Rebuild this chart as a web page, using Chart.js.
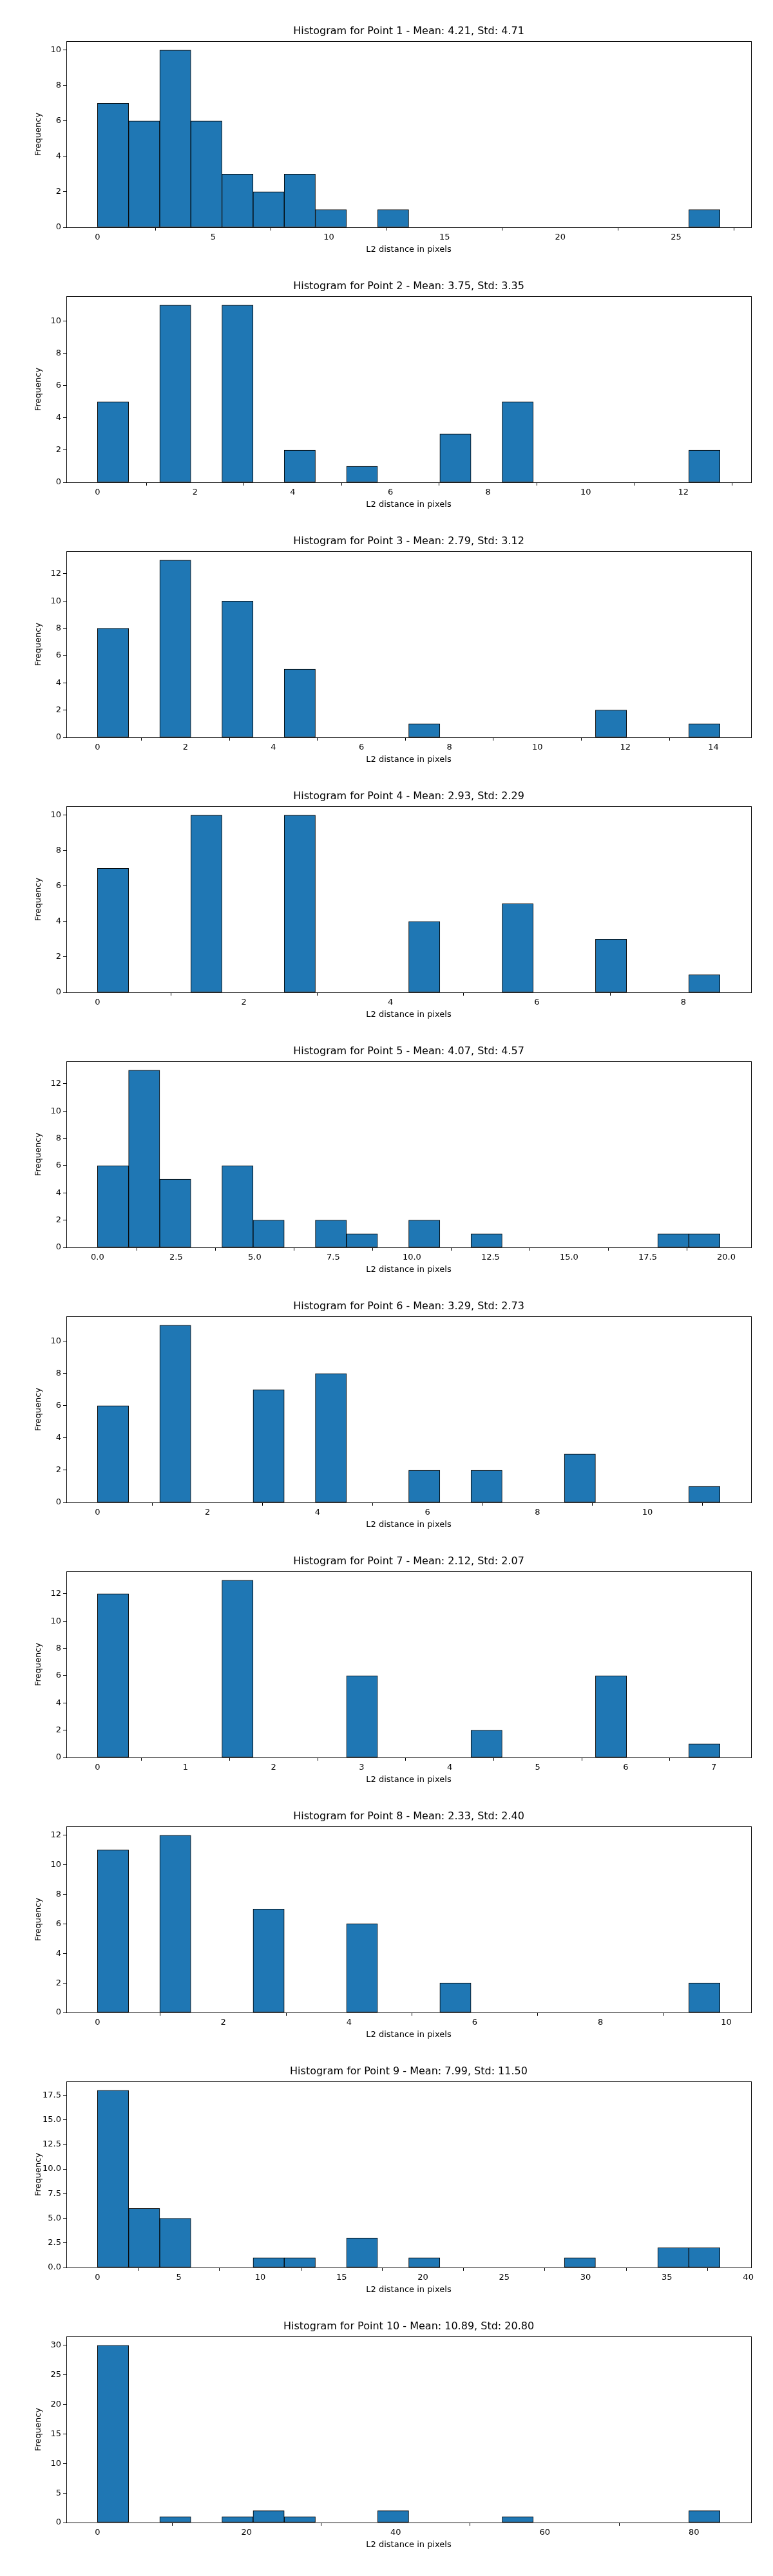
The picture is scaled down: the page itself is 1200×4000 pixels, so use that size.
<!DOCTYPE html>
<html>
<head>
<meta charset="utf-8">
<script src="https://cdn.jsdelivr.net/npm/chart.js@4.4.0/dist/chart.umd.min.js"></script>
<style>
  body { margin: 0; background: #fff; }
  canvas { display: block; }
</style>
</head>
<body>
<div id="wrap"></div>
<script>
// one entry per point: stats from the titles, histogram range and 20 bin counts
const pointNames = ["1", "2", "3", "4", "5", "6", "7", "8", "9", "10"];
const means = ["4.21", "3.75", "2.79", "2.93", "4.07", "3.29", "2.12", "2.33", "7.99", "10.89"];
const stds = ["4.71", "3.35", "3.12", "2.29", "4.57", "2.73", "2.07", "2.40", "11.50", "20.80"];
const rangeMin = [0, 0, 0, 0, 0, 0, 0, 0, 0, 0];
const rangeMax = [26.9, 12.75, 14.15, 8.5, 19.8, 11.32, 7.07, 9.9, 38.26, 83.5];

const counts = [
  [7, 6, 10, 6, 3, 2, 3, 1, 0, 1, 0, 0, 0, 0, 0, 0, 0, 0, 0, 1],
  [5, 0, 11, 0, 11, 0, 2, 0, 1, 0, 0, 3, 0, 5, 0, 0, 0, 0, 0, 2],
  [8, 0, 13, 0, 10, 0, 5, 0, 0, 0, 1, 0, 0, 0, 0, 0, 2, 0, 0, 1],
  [7, 0, 0, 10, 0, 0, 10, 0, 0, 0, 4, 0, 0, 5, 0, 0, 3, 0, 0, 1],
  [6, 13, 5, 0, 6, 2, 0, 2, 1, 0, 2, 0, 1, 0, 0, 0, 0, 0, 1, 1],
  [6, 0, 11, 0, 0, 7, 0, 8, 0, 0, 2, 0, 2, 0, 0, 3, 0, 0, 0, 1],
  [12, 0, 0, 0, 13, 0, 0, 0, 6, 0, 0, 0, 2, 0, 0, 0, 6, 0, 0, 1],
  [11, 0, 12, 0, 0, 7, 0, 0, 6, 0, 0, 2, 0, 0, 0, 0, 0, 0, 0, 2],
  [18, 6, 5, 0, 0, 1, 1, 0, 3, 0, 1, 0, 0, 0, 0, 1, 0, 0, 2, 2],
  [30, 0, 1, 0, 1, 2, 1, 0, 0, 2, 0, 0, 0, 1, 0, 0, 0, 0, 0, 2],
];

// tick steps and decimals per subplot
const xSteps = [5, 2, 2, 2, 2.5, 2, 1, 2, 5, 20];
const xDecimals = [0, 0, 0, 0, 1, 0, 0, 0, 0, 0];
const ySteps = [2, 2, 2, 2, 2, 2, 2, 2, 2.5, 5];
const yDecimals = [0, 0, 0, 0, 0, 0, 0, 0, 1, 0];

const barColor = "#1f77b4";
const fontFamily = "'DejaVu Sans', sans-serif";

function stepTicks(step) {
  return (axis) => {
    const ticks = [];
    for (let k = Math.ceil(axis.min / step - 1e-9); k * step <= axis.max + 1e-9; k++) {
      ticks.push({ value: k * step });
    }
    axis.ticks = ticks;
  };
}

const framePlugin = {
  id: "frame",
  afterDraw(chart, args, opts) {
    const { ctx, chartArea: a } = chart;
    ctx.save();
    ctx.strokeStyle = "#000";
    ctx.lineWidth = 1;
    ctx.strokeRect(a.left + 0.5, a.top + 0.5, a.right - a.left, a.bottom - a.top);
    ctx.fillStyle = "#000";
    ctx.textAlign = "center";
    ctx.textBaseline = "middle";
    ctx.font = "16px " + fontFamily;
    ctx.fillText(opts.title, (a.left + a.right) / 2, 49);
    ctx.font = "13px " + fontFamily;
    ctx.fillText("L2 distance in pixels", (a.left + a.right) / 2, 388);
    ctx.translate(60, (a.top + a.bottom) / 2);
    ctx.rotate(-Math.PI / 2);
    ctx.fillText("Frequency", 0, 0);
    ctx.restore();
  },
};

const wrap = document.getElementById("wrap");

pointNames.forEach((name, i) => {
  const canvas = document.createElement("canvas");
  canvas.width = 1200;
  canvas.height = 396;
  wrap.appendChild(canvas);

  const lo = rangeMin[i];
  const hi = rangeMax[i];
  const binW = (hi - lo) / counts[i].length;
  const points = counts[i].map((c, k) => ({ x: lo + binW * (k + 0.5), y: c }));
  const span = hi - lo;
  const yMax = Math.max(...counts[i]) * 1.05;

  new Chart(canvas, {
    type: "bar",
    data: {
      datasets: [{
        data: points,
        backgroundColor: barColor,
        borderColor: "#000",
        borderWidth: 1,
        borderSkipped: false,
        barPercentage: 1,
        categoryPercentage: 1,
      }],
    },
    options: {
      responsive: false,
      animation: false,
      devicePixelRatio: 1,
      layout: { padding: { top: 64, right: 34, left: 0, bottom: 0 } },
      plugins: {
        legend: { display: false },
        tooltip: { enabled: false },
        frame: { title: `Histogram for Point ${name} - Mean: ${means[i]}, Std: ${stds[i]}` },
      },
      scales: {
        x: {
          type: "linear",
          offset: false,
          min: lo - span * 0.05,
          max: hi + span * 0.05,
          afterBuildTicks: stepTicks(xSteps[i]),
          afterFit: (s) => { s.height = 43; },
          grid: { display: true, drawOnChartArea: false, color: "#000", tickLength: 5, tickColor: "#000" },
          border: { display: true, color: "#000" },
          ticks: {
            color: "#000",
            font: { family: fontFamily, size: 13 },
            padding: 3,
            maxRotation: 0,
            autoSkip: false,
            callback: (v) => Number(v).toFixed(xDecimals[i]),
          },
        },
        y: {
          min: 0,
          max: yMax,
          afterBuildTicks: stepTicks(ySteps[i]),
          afterFit: (s) => { s.width = 103; },
          grid: { display: true, drawOnChartArea: false, color: "#000", tickLength: 5, tickColor: "#000" },
          border: { display: true, color: "#000" },
          ticks: {
            color: "#000",
            font: { family: fontFamily, size: 13 },
            padding: 3,
            autoSkip: false,
            callback: (v) => Number(v).toFixed(yDecimals[i]),
          },
        },
      },
    },
    plugins: [framePlugin],
  });
});
</script>
</body>
</html>
